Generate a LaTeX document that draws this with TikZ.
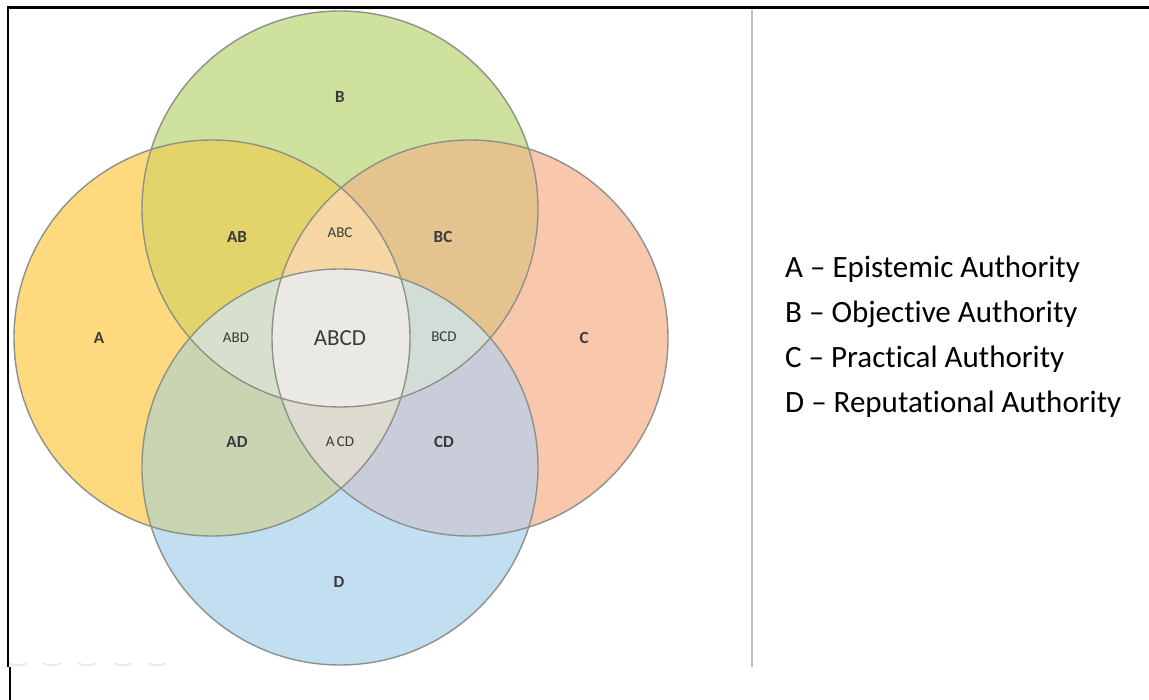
\documentclass[tikz,border=0pt]{standalone}
\usepackage{fontspec}
\setmainfont[Ligatures=NoCommon]{Carlito}
\definecolor{cA}{HTML}{FFD97E}
\definecolor{cB}{HTML}{CEE19D}
\definecolor{cC}{HTML}{F9C7AB}
\definecolor{cD}{HTML}{C2DEF1}
\definecolor{cAB}{HTML}{E3D36B}
\definecolor{cBC}{HTML}{E5C38F}
\definecolor{cAD}{HTML}{C8D4B2}
\definecolor{cCD}{HTML}{C8CDD9}
\definecolor{cABC}{HTML}{F6D6A3}
\definecolor{cABD}{HTML}{D6E0CC}
\definecolor{cBCD}{HTML}{D3DDD8}
\definecolor{cACD}{HTML}{DDDAD0}
\definecolor{cABCD}{HTML}{EBE9E4}
\definecolor{rim}{HTML}{8C9189}
\definecolor{lab}{HTML}{3A3A3A}
\begin{document}
\begin{tikzpicture}[x=1pt,y=-1pt,
  rimline/.style={draw=rim,line width=1.4pt},
  reglab/.style={text=lab,font=\fontsize{17}{17}\selectfont\bfseries,inner sep=0pt},
  trilab/.style={text=lab,font=\fontsize{15}{15}\selectfont,inner sep=0pt},
  legend/.style={text=black,font=\fontsize{31}{31}\selectfont,anchor=west,inner sep=0pt}]
\useasboundingbox (0,0) rectangle (1149,700);
\fill[white] (0,0) rectangle (1149,700);
\def\R{198}
\def\cA{(212,338) circle[radius=\R]}
\def\cB{(340,209) circle[radius=\R]}
\def\cC{(470,338) circle[radius=\R]}
\def\cD{(340,467) circle[radius=\R]}
% singles
\fill[cA] \cA; \fill[cB] \cB; \fill[cC] \cC; \fill[cD] \cD;
% pairs
\begin{scope}\clip \cA; \fill[cAB] \cB; \fill[cAD] \cD; \end{scope}
\begin{scope}\clip \cC; \fill[cBC] \cB; \fill[cCD] \cD; \end{scope}
% triples
\begin{scope}\clip \cA; \clip \cB; \fill[cABC] \cC; \end{scope}
\begin{scope}\clip \cA; \clip \cB; \fill[cABD] \cD; \end{scope}
\begin{scope}\clip \cA; \clip \cC; \fill[cACD] \cD; \end{scope}
\begin{scope}\clip \cB; \clip \cC; \fill[cBCD] \cD; \end{scope}
\begin{scope}\clip \cA; \clip \cB; \clip \cC; \fill[cABCD] \cD; \end{scope}
% outlines
\draw[rimline] \cA; \draw[rimline] \cB; \draw[rimline] \cC; \draw[rimline] \cD;
% faint arcs at bottom
\foreach \xx in {18,52,87,123,157}
  \draw[black!8,line width=2pt] (\xx-9,663) arc[start angle=120,end angle=60,radius=18];
% frame
\fill[white] (0,667) rectangle (752,700);
\draw[black,line width=3pt] (7,8) -- (1149,8);
\draw[black,line width=2.2pt] (8,8) -- (8,667);
\draw[black,line width=2.8pt] (10,667) -- (10,700);
\draw[black!25,line width=1.5pt] (752,10) -- (752,667);
% labels
\node[reglab] (lA) at (99,338) {A};
\node[reglab] (lB) at (340,97) {B};
\node[reglab] (lC) at (584,338) {C};
\node[reglab] (lD) at (339,582) {D};
\node[reglab] (lAB) at (237,237) {AB};
\node[reglab] (lBC) at (443,237) {BC};
\node[reglab] (lAD) at (237,442) {AD};
\node[reglab] (lCD) at (444,442) {CD};
\node[trilab] (lABC) at (340,233) {ABC};
\node[trilab] (lABD) at (236,338) {ABD};
\node[trilab] (lBCD) at (444,337) {BCD};
\node[trilab] (lACD) at (340,442) {A\,CD};
\node[text=lab,font=\fontsize{23}{23}\selectfont,inner sep=0pt] (lABCD) at (340,338) {ABCD};
% legend
\node[legend] (g1) at (785,269) {A – Epistemic Authority};
\node[legend] (g2) at (785,314) {B – Objective Authority};
\node[legend] (g3) at (785,359) {C – Practical Authority};
\node[legend] (g4) at (785,404) {D – Reputational Authority};
\end{tikzpicture}
\end{document}
